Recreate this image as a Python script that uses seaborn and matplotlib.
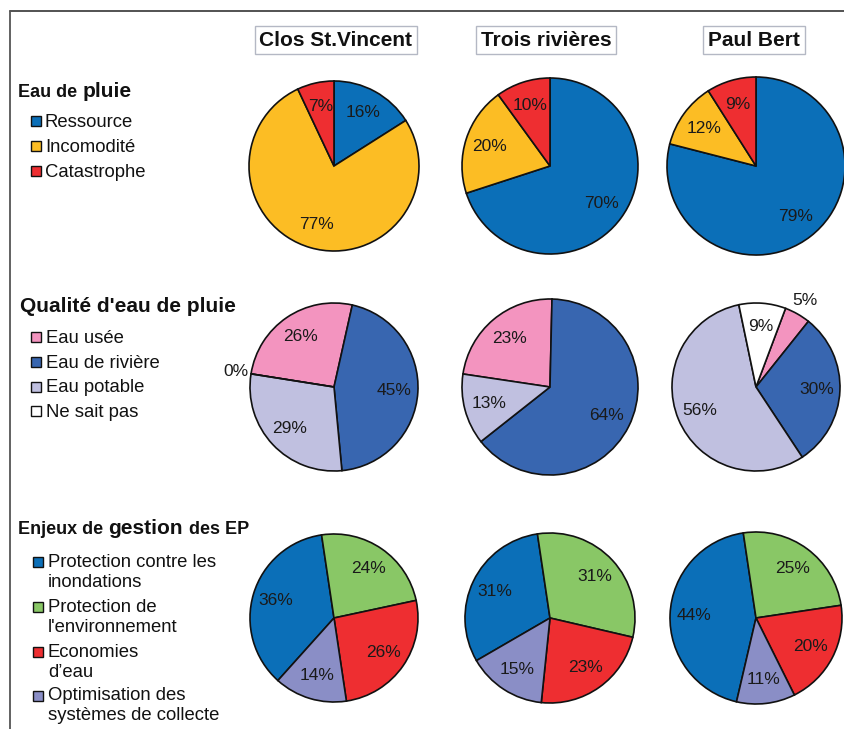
import numpy as np
import matplotlib
matplotlib.use("Agg")
import matplotlib.pyplot as plt
import seaborn as sns
from matplotlib.patches import Rectangle
from matplotlib.lines import Line2D

# ---------------- data ----------------
sites = ["Clos St.Vincent", "Trois rivières", "Paul Bert"]

pluie_labels = ["Ressource", "Incomodité", "Catastrophe"]
pluie_clos = [16, 77, 7]
pluie_trois = [70, 20, 10]
pluie_paul = [79, 12, 9]

qualite_labels = ["Eau usée", "Eau de rivière", "Eau potable", "Ne sait pas"]
qualite_clos = [26, 45, 29, 0]
qualite_trois = [23, 64, 13, np.nan]
qualite_paul = [5, 30, 56, 9]

enjeux_labels = ["Protection contre les\ninondations", "Protection de\nl'environnement",
                 "Economies\nd’eau", "Optimisation des\nsystèmes de collecte"]
enjeux_clos = [36, 24, 26, 14]
enjeux_trois = [31, 31, 23, 15]
enjeux_paul = [44, 25, 20, 11]

# ---------------- style ----------------
sns.set_theme(style="white")
plt.rcParams['font.family'] = ['Liberation Sans', 'DejaVu Sans']

pluie_colors = ["#0B6FB8", "#FCBD24", "#EE2E31"]
qualite_colors = ["#F394BF", "#3866B0", "#C0C0E0", "#FFFFFF"]
enjeux_colors = ["#0B6FB8", "#89C766", "#EE2E31", "#8A8EC6"]

W, H = 845, 729
fig = plt.figure(figsize=(W / 100, H / 100), dpi=100)
fig.patch.set_facecolor("white")
renderer = fig.canvas.get_renderer()

def fx(x):
    return x / W

def fy(y):
    return 1 - y / H

# frame lines
fig.add_artist(Line2D([fx(10), 1], [fy(11), fy(11)], color="#444444", lw=1.3))
fig.add_artist(Line2D([fx(10), fx(10)], [fy(11), 0], color="#555555", lw=1.3))

# column titles
title_x = [336, 546, 754]
for s, x in zip(sites, title_x):
    fig.text(fx(x), fy(40), s, ha="center", va="center", fontsize=15, fontweight="bold",
             color="#111111",
             bbox=dict(boxstyle="square,pad=0.22", fc="white", ec="#b4b8c4", lw=1))

# ---------------- pies ----------------
def draw_pie(cx, cy, r, values, colors, start_cw):
    vals = np.array(values, dtype=float)
    mask = ~np.isnan(vals)
    L = 1.3
    side = 2 * L * r
    ax = fig.add_axes([fx(cx - L * r), fy(cy + L * r), side / W, side / H])
    cols = [c for c, m in zip(colors, mask) if m]
    wedges, texts, autotexts = ax.pie(
        vals[mask], colors=cols, startangle=90 - start_cw, counterclock=False,
        autopct=lambda p: f"{p:.0f}%", pctdistance=0.72,
        wedgeprops=dict(edgecolor="#111111", linewidth=1.2),
        textprops=dict(fontsize=12.5, color="#1a1a1a"))
    ax.set_xlim(-L, L)
    ax.set_ylim(-L, L)
    ax.set_aspect("equal")
    ax.axis("off")
    for v, t in zip(vals[mask], autotexts):
        if v < 6:
            x, y = t.get_position()
            t.set_position((x / 0.72 * 1.18, y / 0.72 * 1.18))
    return ax

col_x = [334, 550, 756]

# row 1 : eau de pluie
for cx, r, v in zip(col_x, [85, 88, 89], [pluie_clos, pluie_trois, pluie_paul]):
    draw_pie(cx, 166, r, v, pluie_colors, 0)

# row 2 : qualité
for cx, r, v, st in zip(col_x, [84, 88, 84], [qualite_clos, qualite_trois, qualite_paul],
                        [-81, -81.5, 20.6]):
    draw_pie(cx, 387, r, v, qualite_colors, st)

# row 3 : enjeux
for cx, r, v in zip(col_x, [84, 85, 86], [enjeux_clos, enjeux_trois, enjeux_paul]):
    draw_pie(cx, 618, r, v, enjeux_colors, -8.5 - 3.6 * v[0])

# ---------------- headers ----------------
def mixed(x, y, parts):
    for txt, size in parts:
        t = fig.text(fx(x), fy(y), txt, fontsize=size, fontweight="bold",
                     ha="left", va="baseline", color="#111111")
        bb = t.get_window_extent(renderer)
        x = bb.x1 + 0.28 * size * 100 / 72

mixed(18, 97, [("Eau de", 13), ("pluie", 15)])
mixed(20, 312, [("Qualité d'eau de pluie", 15)])
mixed(18, 534, [("Enjeux de", 13), ("gestion", 15), ("des EP", 13)])

# ---------------- legends ----------------
def legend_item(mx, my, tx, baselines, label, color):
    fig.add_artist(Rectangle((fx(mx), fy(my + 5)), 10 / W, 10 / H, transform=fig.transFigure,
                             fc=color, ec="#111111", lw=1))
    for b, line in zip(baselines, label.split("\n")):
        fig.text(fx(tx), fy(b), line, fontsize=13.3, ha="left", va="baseline", color="#111111")

for lab, col, my, b in zip(pluie_labels, pluie_colors, [121, 146, 171], [127, 152, 177]):
    legend_item(31, my, 45, [b], lab, col)

for lab, col, my, b in zip(qualite_labels, qualite_colors, [337, 362, 386.5, 411],
                           [343, 368, 392, 417]):
    legend_item(31, my, 46, [b], lab, col)

for lab, col, my, bs in zip(enjeux_labels, enjeux_colors, [562, 606.5, 651.5, 695.5],
                            [[567, 587], [612, 632], [657, 677], [700, 720]]):
    legend_item(33, my, 48, bs, lab, col)

fig.savefig("out.png", dpi=100)
